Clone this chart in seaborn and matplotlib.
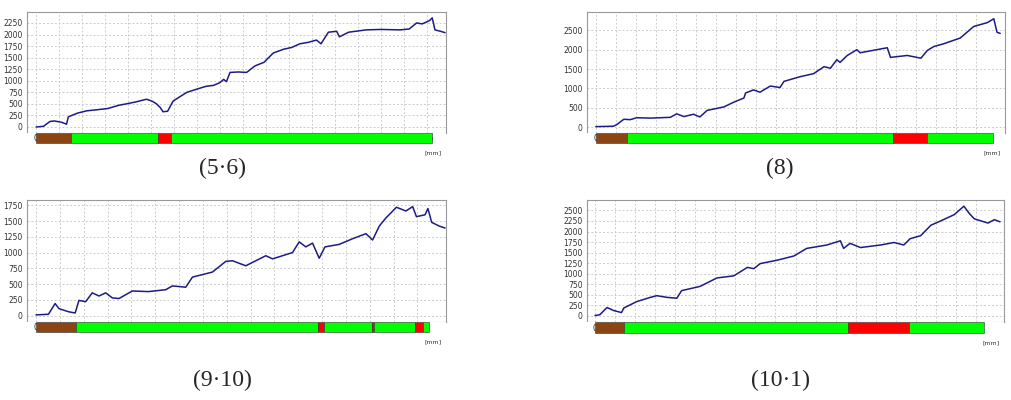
import matplotlib
matplotlib.use("Agg")
import matplotlib.pyplot as plt
import seaborn as sns
import pandas as pd

# panel (5·6)
x1 = [0, 8, 15, 20, 28, 33, 35, 45, 55, 65, 78, 90, 98, 108, 120, 126, 131, 135, 138, 143, 149, 156, 164, 175, 185, 193, 200, 204, 207, 211, 220, 229, 238, 248, 258, 269, 278, 287, 296, 305, 310, 318, 327, 330, 340, 359, 375, 396, 406, 414, 420, 428, 431, 434, 440, 445]
y1 = [0, 15, 120, 130, 100, 60, 220, 300, 350, 370, 400, 470, 500, 540, 600, 560, 500, 420, 330, 340, 560, 650, 750, 820, 880, 900, 960, 1030, 980, 1180, 1190, 1180, 1320, 1400, 1600, 1680, 1720, 1800, 1830, 1880, 1800, 2050, 2070, 1950, 2050, 2100, 2110, 2100, 2120, 2250, 2230, 2300, 2360, 2100, 2070, 2040]
# panel (8)
x2 = [0, 22, 26, 35, 43, 51, 68, 93, 101, 110, 122, 130, 139, 160, 172, 185, 187, 197, 205, 218, 230, 235, 255, 272, 285, 293, 301, 305, 314, 326, 330, 351, 364, 368, 389, 406, 414, 422, 434, 455, 472, 489, 497, 501, 505]
y2 = [10, 20, 60, 200, 190, 240, 230, 250, 340, 270, 330, 260, 430, 520, 640, 750, 880, 960, 900, 1060, 1020, 1180, 1300, 1380, 1560, 1520, 1740, 1670, 1850, 2000, 1920, 2000, 2050, 1800, 1850, 1780, 1980, 2080, 2150, 2300, 2600, 2700, 2800, 2450, 2420]
# panel (9·10)
x3 = [0, 13, 20, 24, 34, 41, 45, 52, 59, 66, 73, 80, 87, 101, 118, 136, 143, 157, 164, 185, 199, 206, 220, 241, 248, 269, 276, 283, 290, 297, 303, 318, 332, 346, 353, 360, 367, 378, 388, 395, 399, 408, 411, 415, 423, 429]
y3 = [10, 20, 190, 110, 60, 40, 240, 220, 360, 310, 360, 280, 270, 390, 380, 410, 470, 450, 610, 690, 860, 870, 790, 950, 900, 1000, 1170, 1090, 1150, 910, 1090, 1130, 1220, 1300, 1200, 1420, 1550, 1720, 1660, 1730, 1570, 1600, 1700, 1480, 1420, 1390]
# panel (10·1)
x4 = [0, 6, 15, 23, 33, 36, 52, 69, 77, 90, 102, 108, 131, 152, 173, 190, 198, 206, 227, 248, 264, 289, 306, 310, 318, 331, 356, 373, 385, 393, 406, 419, 431, 448, 460, 467, 473, 490, 498, 505]
y4 = [10, 30, 200, 130, 80, 190, 340, 440, 480, 440, 420, 600, 700, 900, 950, 1150, 1120, 1240, 1320, 1420, 1600, 1680, 1780, 1600, 1720, 1620, 1680, 1740, 1680, 1830, 1900, 2150, 2250, 2400, 2600, 2420, 2300, 2200, 2280, 2230]

captions = ["(5·6)", "(8)", "(9·10)", "(10·1)"]
# strip segments: (start, end, colour)
strips = [
    [(0, 38, "brown"), (38, 133, "g"), (133, 147, "r"), (147, 431, "g")],
    [(0, 39, "brown"), (39, 371, "g"), (371, 414, "r"), (414, 496, "g")],
    [(0, 42, "brown"), (42, 296, "g"), (296, 302, "r"), (302, 352, "g"), (352, 355, "r"), (355, 398, "g"), (398, 406, "r"), (406, 412, "g")],
    [(0, 36, "brown"), (36, 315, "g"), (315, 391, "r"), (391, 485, "g")],
]
xlims = [(-10, 446), (-11, 511), (-9.5, 430), (-10, 510)]
ylims = [(-130, 2487), (-155, 2974), (-103, 1835), (-143, 2746)]
yticks = [range(0, 2251, 250), range(0, 2501, 500), range(0, 1751, 250), range(0, 2501, 250)]
xticks_max = [425, 475, 400, 475]
seg_colors = {"brown": "#8b4513", "g": "#00ff00", "r": "#ff0000"}

# pixel boxes: main (x0, x1, y0, y1), strip bottom, caption pos
boxes = [(27, 446, 12, 133, 143, 222, 168), (587, 1005, 12, 133, 143, 780, 168),
         (27, 446, 200, 322, 332, 222, 380), (587, 1004, 200, 322, 333, 780, 380)]

W, H = 1011, 400
fig = plt.figure(figsize=(W / 100, H / 100), dpi=100)
sns.set_style("white")

data = [(x1, y1), (x2, y2), (x3, y3), (x4, y4)]
for i, (xs, ys) in enumerate(data):
    bx0, bx1, by0, by1, sy1, cx, cy = boxes[i]
    ax = fig.add_axes([bx0 / W, 1 - by1 / H, (bx1 - bx0) / W, (by1 - by0) / H])
    df = pd.DataFrame({"mm": xs, "val": ys})
    sns.lineplot(data=df, x="mm", y="val", ax=ax, color="#1c1c84", linewidth=1.1)
    ax.set_xlim(*xlims[i])
    ax.set_ylim(*ylims[i])
    ax.set_yticks(list(yticks[i]))
    ax.set_xticks(range(0, xticks_max[i] + 1, 25))
    ax.set_xticklabels([])
    ax.tick_params(axis="y", labelsize=5.5, length=0, pad=3, labelcolor="#333333")
    ax.tick_params(axis="x", length=0)
    ax.grid(True, color="#cccccc", linestyle=(0, (2, 2)), linewidth=0.7)
    ax.set_xlabel("")
    ax.set_ylabel("")
    for s in ax.spines.values():
        s.set_color("#999999")
        s.set_linewidth(0.8)

    sax = fig.add_axes([bx0 / W, 1 - sy1 / H, (bx1 - bx0) / W, (sy1 - by1) / H])
    sax.set_xlim(*xlims[i])
    sax.set_ylim(0, 1)
    for a, b, c in strips[i]:
        sax.broken_barh([(a, b - a)], (0, 1), facecolors=seg_colors[c],
                        edgecolors="#333333", linewidth=0.4)
    sax.set_xticks(range(0, xticks_max[i] + 1, 25))
    sax.tick_params(axis="x", labelsize=5.5, length=0, pad=-6.3, labelcolor="#222222")
    sax.set_yticks([])
    for s in sax.spines.values():
        s.set_visible(False)
    fig.text(bx1 / W - 0.004, 1 - (sy1 + 10) / H, "[mm]",
             fontsize=4.5, ha="right", va="center", color="#333333")

    fig.text(cx / W, 1 - cy / H, captions[i], fontsize=17, ha="center", va="center",
             family=["Liberation Serif", "DejaVu Serif"])

fig.savefig("out.png", dpi=100)
